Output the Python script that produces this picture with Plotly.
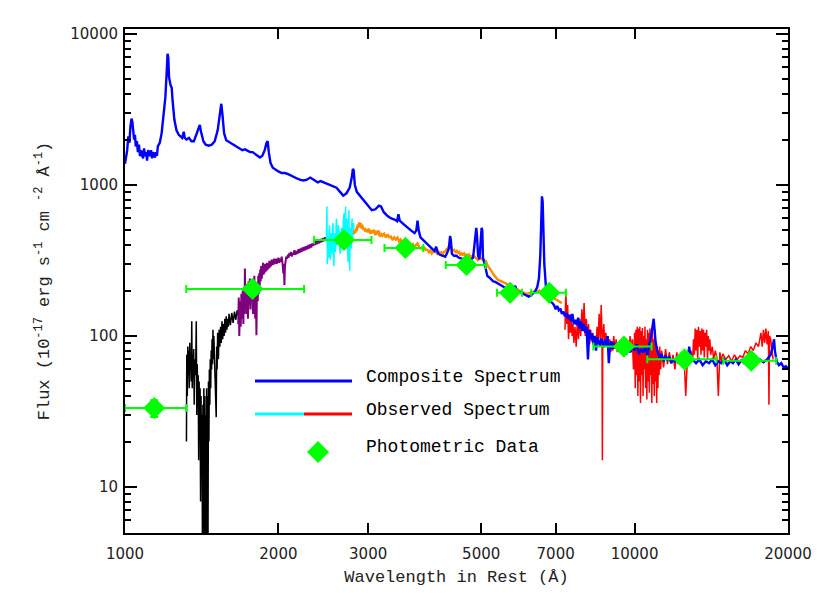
import plotly.graph_objects as go

# ---------------- data ----------------
composite = [
    (1000, 1380), (1005, 1550), (1010, 1700), (1015, 2100), (1020, 1900), (1025, 2450),
    (1030, 2750), (1034, 2600), (1038, 2300), (1042, 2000), (1046, 2150), (1050, 1800),
    (1055, 1950), (1060, 1650), (1065, 1850), (1070, 1550), (1075, 1700), (1080, 1600),
    (1085, 1500), (1090, 1750), (1095, 1550), (1100, 1650), (1105, 1450), (1110, 1700),
    (1115, 1600), (1120, 1550), (1125, 1700), (1130, 1500), (1135, 1650), (1140, 1580),
    (1145, 1520), (1150, 1650), (1155, 1560), (1160, 1800), (1170, 1900), (1180, 2200),
    (1190, 2800), (1200, 3800), (1207, 5500), (1212, 7400), (1216, 7000), (1220, 5200),
    (1228, 4600), (1235, 4400), (1240, 3600), (1250, 2700), (1262, 2300), (1275, 2150),
    (1285, 2100), (1295, 2050), (1304, 2250), (1310, 2050), (1320, 2000), (1335, 2050),
    (1350, 1950), (1365, 1950), (1380, 2150), (1395, 2450), (1402, 2500), (1410, 2250),
    (1425, 1950), (1440, 1850), (1460, 1820), (1480, 1850), (1500, 1950), (1520, 2300),
    (1535, 3000), (1545, 3450), (1552, 3000), (1565, 2200), (1580, 1980), (1600, 1930),
    (1620, 1900), (1640, 1850), (1660, 1800), (1680, 1750), (1700, 1700), (1720, 1720),
    (1740, 1680), (1760, 1650), (1780, 1650), (1800, 1600), (1820, 1550), (1840, 1520),
    (1860, 1560), (1880, 1700), (1895, 1900), (1905, 1950), (1915, 1650), (1930, 1400),
    (1950, 1300), (1975, 1260), (2000, 1230), (2030, 1200), (2060, 1200), (2090, 1180),
    (2120, 1150), (2150, 1120), (2180, 1100), (2210, 1080), (2240, 1070), (2270, 1080),
    (2310, 1120), (2350, 1080), (2390, 1040), (2420, 1060), (2450, 1040), (2500, 1010),
    (2550, 990), (2600, 960), (2650, 890), (2680, 850), (2720, 880), (2760, 960),
    (2790, 1150), (2800, 1280), (2810, 1250), (2825, 1000), (2850, 900), (2880, 860),
    (2920, 820), (2960, 770), (3000, 720), (3050, 680), (3100, 690), (3150, 730),
    (3180, 720), (3220, 660), (3280, 620), (3330, 600), (3380, 590), (3420, 575),
    (3440, 640), (3460, 580), (3520, 550), (3580, 520), (3640, 500), (3700, 480),
    (3730, 500), (3750, 580), (3770, 500), (3800, 450), (3850, 430), (3890, 420),
    (3930, 400), (3970, 390), (4000, 380), (4050, 365), (4080, 390), (4110, 355),
    (4150, 345), (4200, 340), (4250, 335), (4280, 350), (4320, 380), (4345, 460),
    (4360, 430), (4380, 350), (4420, 340), (4470, 340), (4520, 330), (4580, 325),
    (4620, 322), (4660, 330), (4700, 320), (4760, 318), (4820, 330), (4850, 400),
    (4870, 480), (4890, 520), (4905, 470), (4930, 340), (4960, 322), (4990, 420),
    (5010, 520), (5025, 500), (5040, 330), (5080, 300), (5110, 265), (5140, 250),
    (5180, 245), (5230, 236), (5280, 230), (5330, 228), (5380, 224), (5430, 220),
    (5480, 216), (5530, 210), (5580, 208), (5630, 212), (5680, 214), (5730, 210),
    (5790, 206), (5830, 215), (5870, 200), (5920, 196), (5970, 195), (6020, 192),
    (6080, 188), (6150, 185), (6200, 182), (6260, 185), (6320, 190), (6380, 198),
    (6440, 210), (6490, 240), (6530, 340), (6560, 620), (6580, 840), (6600, 780),
    (6620, 500), (6650, 300), (6700, 210), (6750, 185), (6800, 178), (6850, 168),
    (6900, 165), (6950, 160), (7000, 150), (7050, 158), (7100, 148), (7150, 152),
    (7200, 140), (7250, 145), (7300, 135), (7350, 142), (7400, 130), (7450, 138),
    (7500, 125), (7550, 140), (7600, 120), (7650, 128), (7700, 118), (7750, 132),
    (7800, 112), (7850, 125), (7900, 108), (7950, 120), (8000, 105), (8050, 115),
    (8100, 70), (8150, 110), (8200, 95), (8250, 104), (8300, 88), (8350, 100),
    (8400, 80), (8450, 98), (8500, 92), (8550, 86), (8600, 96), (8650, 90),
    (8700, 84), (8750, 95), (8800, 86), (8850, 100), (8900, 66), (8950, 88),
    (9000, 92), (9050, 82), (9100, 90), (9150, 84), (9200, 88), (9300, 80),
    (9400, 86), (9500, 82), (9600, 76), (9700, 84), (9800, 78), (9900, 86),
    (10000, 80), (10100, 88), (10200, 76), (10300, 82), (10400, 78), (10500, 84),
    (10600, 74), (10700, 90), (10800, 105), (10900, 130), (10950, 110), (11000, 90),
    (11100, 78), (11200, 72), (11300, 76), (11400, 68), (11500, 74), (11600, 70),
    (11700, 72), (11800, 66), (11900, 70), (12000, 68), (12100, 72), (12200, 66),
    (12300, 70), (12400, 68), (12500, 72), (12600, 66), (12700, 70), (12800, 85),
    (12850, 76), (12900, 68), (13000, 70), (13200, 66), (13400, 70), (13600, 64),
    (13800, 68), (14000, 66), (14200, 70), (14400, 64), (14600, 68), (14800, 66),
    (15000, 70), (15200, 64), (15400, 68), (15600, 66), (15800, 70), (16000, 65),
    (16200, 69), (16400, 66), (16600, 68), (16800, 64), (17000, 68), (17300, 66),
    (17600, 70), (17900, 67), (18200, 70), (18500, 75), (18700, 88), (18780, 95),
    (18850, 80), (19000, 68), (19200, 64), (19400, 66), (19600, 62), (19800, 63),
    (20000, 61), (20300, 62),
]

observed_black = [
    (1320, 20), (1322, 75), (1325, 40), (1328, 85), (1331, 55), (1334, 80), (1337, 45),
    (1340, 90), (1343, 60), (1346, 70), (1349, 50), (1352, 125), (1355, 45), (1358, 75),
    (1361, 60), (1364, 82), (1367, 35), (1370, 70), (1373, 55), (1376, 60), (1380, 125),
    (1383, 30), (1386, 65), (1389, 40), (1392, 55), (1395, 15), (1398, 50), (1401, 25),
    (1404, 45), (1407, 8), (1410, 40), (1413, 14), (1416, 30), (1419, 4), (1422, 35),
    (1425, 4), (1428, 45), (1431, 4), (1434, 40), (1437, 4), (1440, 30), (1443, 4),
    (1446, 45), (1449, 4), (1452, 40), (1455, 4), (1458, 50), (1461, 20), (1464, 60),
    (1467, 35), (1470, 70), (1473, 45), (1476, 80), (1479, 60), (1482, 95), (1485, 65),
    (1488, 110), (1491, 70), (1494, 100), (1497, 75), (1500, 90), (1505, 50), (1510, 29),
    (1513, 85), (1516, 60), (1520, 105), (1525, 70), (1530, 110), (1535, 85), (1540, 115),
    (1545, 90), (1550, 125), (1555, 95), (1560, 120), (1565, 100), (1570, 130),
    (1575, 105), (1580, 135), (1585, 110), (1590, 130), (1595, 115), (1600, 140),
    (1610, 118), (1620, 142), (1630, 122), (1640, 145), (1650, 128), (1660, 148),
    (1670, 135), (1680, 150),
]

observed_purple = [
    (1668, 120), (1672, 180), (1676, 100), (1682, 170), (1687, 115), (1692, 190),
    (1697, 130), (1702, 200), (1707, 120), (1712, 210), (1716, 140), (1719, 280),
    (1723, 150), (1728, 220), (1733, 140), (1738, 210), (1743, 130), (1748, 230),
    (1753, 160), (1758, 240), (1763, 150), (1768, 235), (1773, 170), (1778, 220),
    (1783, 140), (1788, 225), (1794, 250), (1798, 150), (1802, 130), (1806, 210),
    (1811, 101), (1815, 200), (1818, 220), (1822, 170), (1826, 250), (1830, 190),
    (1834, 260), (1838, 215), (1842, 275), (1846, 230), (1850, 290), (1855, 240),
    (1860, 285), (1866, 305), (1870, 255), (1874, 290), (1878, 260), (1882, 300),
    (1886, 265), (1890, 295), (1895, 270), (1900, 305), (1905, 275), (1910, 300),
    (1915, 280), (1920, 315), (1925, 285), (1930, 310), (1935, 290), (1940, 320),
    (1945, 295), (1950, 315), (1955, 295), (1960, 325), (1965, 300), (1970, 320),
    (1975, 305), (1980, 325), (1985, 300), (1990, 320), (1995, 305), (2000, 330),
    (2008, 305), (2015, 325), (2022, 310), (2030, 335), (2038, 300), (2045, 260),
    (2050, 300), (2055, 218), (2060, 290), (2065, 320), (2072, 335), (2080, 325),
    (2088, 345), (2095, 330), (2102, 355), (2110, 340), (2118, 360), (2125, 335),
    (2132, 355), (2140, 345), (2150, 370), (2160, 345), (2170, 365), (2180, 350),
    (2190, 375), (2200, 355), (2210, 380), (2220, 360), (2230, 385), (2240, 365),
    (2250, 390), (2260, 370), (2270, 395), (2280, 375), (2290, 400), (2300, 380),
    (2310, 405), (2320, 385), (2330, 410), (2340, 395), (2350, 420), (2360, 400),
    (2370, 425), (2380, 405), (2390, 430), (2400, 410), (2410, 435), (2420, 415),
    (2430, 440), (2440, 420), (2450, 445), (2460, 425), (2470, 450), (2484, 430),
]

observed_cyan = [
    (2484, 420), (2490, 720), (2495, 300), (2500, 460), (2505, 340), (2510, 330),
    (2515, 500), (2520, 540), (2525, 360), (2530, 320), (2535, 480), (2540, 470),
    (2545, 350), (2550, 380), (2555, 520), (2560, 560), (2565, 340), (2570, 290),
    (2575, 450), (2580, 480), (2585, 360), (2590, 380), (2595, 520), (2600, 600),
    (2607, 400), (2615, 420), (2622, 540), (2630, 500), (2637, 380), (2645, 350),
    (2652, 470), (2660, 520), (2667, 390), (2675, 440), (2682, 560), (2690, 650),
    (2695, 420), (2700, 450), (2705, 560), (2710, 720), (2715, 380), (2720, 420),
    (2725, 600), (2730, 560), (2735, 380), (2740, 310), (2745, 520), (2750, 680),
    (2755, 400), (2760, 270), (2765, 450), (2770, 520), (2775, 400), (2780, 380),
    (2785, 520), (2790, 600), (2795, 440), (2800, 480), (2808, 560), (2815, 520),
]

observed_orange = [
    (2815, 470), (2822, 505), (2830, 480), (2840, 520), (2850, 495), (2860, 545),
    (2870, 520), (2880, 565), (2890, 535), (2900, 560), (2910, 515), (2920, 545),
    (2935, 505), (2950, 520), (2965, 490), (2980, 510), (2995, 485), (3010, 515),
    (3030, 475), (3045, 500), (3060, 480), (3080, 505), (3100, 465), (3115, 495),
    (3130, 470), (3145, 500), (3160, 455), (3180, 480), (3200, 460), (3225, 475),
    (3250, 448), (3275, 470), (3300, 450), (3325, 455), (3350, 432), (3375, 450),
    (3400, 435), (3425, 448), (3450, 422), (3475, 435), (3500, 412), (3525, 425),
    (3550, 408), (3575, 430), (3600, 415), (3625, 405), (3650, 392), (3675, 405),
    (3700, 388), (3725, 400), (3750, 410), (3775, 390), (3800, 380), (3825, 385),
    (3850, 368), (3875, 382), (3900, 372), (3925, 370), (3950, 358), (3975, 368),
    (4000, 352), (4025, 362), (4050, 372), (4075, 360), (4100, 350), (4125, 362),
    (4150, 352), (4175, 358), (4200, 345), (4225, 360), (4250, 362), (4275, 375),
    (4300, 380), (4325, 395), (4350, 398), (4375, 380), (4400, 368), (4425, 372),
    (4450, 360), (4475, 366), (4500, 355), (4525, 360), (4550, 342), (4575, 352),
    (4600, 346), (4625, 352), (4650, 336), (4675, 346), (4700, 340), (4725, 346),
    (4750, 328), (4775, 338), (4800, 332), (4825, 342), (4850, 336), (4875, 330),
    (4900, 326), (4925, 318), (4950, 322), (4975, 330), (5000, 326), (5025, 320),
    (5050, 312), (5075, 310), (5100, 318), (5125, 300), (5150, 292), (5175, 285),
    (5200, 280), (5225, 272), (5250, 266), (5275, 258), (5300, 252), (5325, 246),
    (5350, 242), (5375, 238), (5400, 235), (5450, 232), (5500, 230), (5550, 226),
    (5600, 222), (5650, 218), (5700, 216), (5750, 212), (5800, 209), (5850, 205),
    (5900, 202), (5950, 199), (6000, 196), (6050, 194), (6100, 192), (6150, 190),
    (6200, 191), (6250, 194), (6300, 193), (6350, 196), (6400, 195), (6450, 198),
    (6500, 200), (6550, 196), (6600, 197), (6650, 194), (6700, 192), (6750, 190),
    (6800, 188), (6850, 184), (6900, 182), (6950, 178), (7000, 175), (7050, 172),
    (7100, 170), (7150, 168), (7200, 165),
]

observed_red = [
    (7300, 110), (7330, 200), (7360, 120), (7390, 160), (7420, 95), (7450, 130),
    (7480, 105), (7510, 140), (7540, 100), (7570, 120), (7600, 90), (7640, 115),
    (7680, 85), (7720, 125), (7760, 95), (7800, 130), (7840, 100), (7880, 150),
    (7920, 110), (7960, 165), (8000, 100), (8040, 130), (8080, 95), (8120, 120),
    (8160, 88), (8200, 110), (8240, 92), (8280, 105), (8320, 85), (8360, 100),
    (8400, 82), (8440, 115), (8480, 90), (8520, 140), (8560, 95), (8600, 160),
    (8630, 100), (8645, 15), (8660, 95), (8700, 120), (8740, 88), (8780, 105),
    (8820, 85), (8860, 100), (8900, 82), (8940, 95), (8980, 78), (9020, 92),
    (9060, 80), (9100, 100), (9150, 82), (9200, 95), (9250, 78), (9300, 90),
    (9350, 80), (9400, 92), (9450, 76), (9500, 88), (9550, 80), (9600, 95),
    (9650, 75), (9700, 90), (9750, 82), (9800, 100), (9850, 78), (9900, 95),
    (9950, 60), (10000, 105), (10030, 45), (10060, 110), (10090, 55), (10120, 115),
    (10150, 40), (10180, 112), (10210, 50), (10240, 115), (10270, 36), (10300, 108),
    (10330, 55), (10360, 113), (10390, 40), (10420, 100), (10450, 60), (10480, 115),
    (10510, 45), (10540, 95), (10570, 38), (10600, 110), (10630, 50), (10660, 105),
    (10690, 42), (10720, 112), (10750, 55), (10780, 100), (10810, 36), (10840, 108),
    (10870, 48), (10900, 95), (10930, 40), (10960, 110), (10990, 50), (11020, 90),
    (11050, 36), (11080, 85), (11110, 45), (11140, 80), (11170, 55), (11200, 85),
    (11250, 60), (11300, 80), (11400, 62), (11500, 82), (11600, 65), (11700, 78),
    (11800, 66), (11900, 75), (12000, 60), (12100, 78), (12200, 65), (12300, 72),
    (12400, 62), (12500, 75), (12600, 40), (12700, 74), (12800, 66), (12900, 80),
    (13000, 70), (13050, 95), (13100, 75), (13150, 112), (13200, 80), (13250, 110),
    (13300, 70), (13350, 115), (13400, 85), (13450, 108), (13500, 75), (13550, 112),
    (13600, 80), (13650, 110), (13700, 72), (13750, 105), (13800, 85), (13850, 110),
    (13900, 70), (13950, 100), (14000, 80), (14050, 95), (14100, 75), (14200, 85),
    (14300, 70), (14400, 80), (14500, 72), (14600, 40), (14700, 78), (14800, 68),
    (14900, 76), (15100, 70), (15300, 74), (15500, 68), (15700, 75), (15900, 70),
    (16100, 74), (16300, 72), (16500, 80), (16700, 76), (16900, 85), (17100, 80),
    (17300, 90), (17500, 85), (17700, 105), (17800, 85), (17900, 110), (18000, 90),
    (18100, 112), (18200, 88), (18300, 108), (18350, 35), (18400, 100), (18500, 95),
    (18600, 80), (18700, 70),
]

phot_wl = [1141, 1780, 2690, 3550, 4680, 5696, 6800, 9530, 12530, 16940]
phot_flux = [33.3, 205, 432, 383, 295, 193, 193, 85, 70, 68.5]
phot_wl_lo = [1000, 1319, 2350, 3230, 4260, 5370, 6270, 8300, 10590, 14930]
phot_wl_hi = [1319, 2246, 3045, 3850, 5100, 6010, 7330, 10800, 14470, 18960]
phot_flux_err = [4.2, 0, 0, 0, 0, 0, 0, 0, 0, 0]

x_tickvals = [1000, 2000, 3000, 5000, 7000, 10000, 20000]
x_ticktext = ["1000", "2000", "3000", "5000", "7000", "10000", "20000"]

legend_labels = ["Composite Spectrum", "Observed Spectrum", "Photometric Data"]

# ---------------- figure ----------------
def xy(pairs):
    return [p[0] for p in pairs], [p[1] for p in pairs]

fig = go.Figure()
for pairs, col, w in [(observed_black, "black", 1.5), (observed_purple, "#7F007F", 2.0),
                      (observed_cyan, "#00FFFF", 1.5), (observed_orange, "#FF8C00", 2.4),
                      (observed_red, "#FF0000", 1.5)]:
    x, y = xy(pairs)
    fig.add_trace(go.Scatter(x=x, y=y, mode="lines", line=dict(color=col, width=w),
                             showlegend=False, hoverinfo="skip"))

x, y = xy(composite)
fig.add_trace(go.Scatter(x=x, y=y, mode="lines", line=dict(color="#0000FF", width=2.4),
                         showlegend=False))

fig.add_trace(go.Scatter(
    x=phot_wl, y=phot_flux, mode="markers",
    marker=dict(symbol="diamond", size=17, color="#00FF00"),
    error_x=dict(type="data", symmetric=False,
                 array=[h - w for h, w in zip(phot_wl_hi, phot_wl)],
                 arrayminus=[w - l for w, l in zip(phot_wl, phot_wl_lo)],
                 color="#00FF00", thickness=2, width=4),
    error_y=dict(type="data", array=phot_flux_err, color="#00FF00", thickness=2, width=4),
    showlegend=False))

# page body adds an 8px offset; target plot box in the screenshot is 125..788 x 29..533
OFF = 8
FIG_W, FIG_H = 830 - OFF, 593 - OFF
L, R, T, B = 125 - OFF, 788 - OFF, 29 - OFF, 533 - OFF
W, H = R - L, B - T
def px(xp): return (xp - OFF - L) / W
def py(yp): return (B - (yp - OFF)) / H

shapes = [
    dict(type="line", xref="paper", yref="paper", x0=px(255), x1=px(352), y0=py(381), y1=py(381),
         line=dict(color="#0000FF", width=3)),
    dict(type="line", xref="paper", yref="paper", x0=px(255), x1=px(304), y0=py(414), y1=py(414),
         line=dict(color="#00FFFF", width=3)),
    dict(type="line", xref="paper", yref="paper", x0=px(304), x1=px(352), y0=py(414), y1=py(414),
         line=dict(color="#FF0000", width=3)),
    dict(type="path", xref="paper", yref="paper",
         path=f"M {px(307)},{py(452)} L {px(318)},{py(441)} L {px(329)},{py(452)} L {px(318)},{py(463)} Z",
         fillcolor="#00FF00", line=dict(width=0)),
]
annotations = []
for lab, yy in zip(legend_labels, [377, 410, 447]):
    annotations.append(dict(text=lab, xref="paper", yref="paper", x=px(364), y=py(yy),
                            xanchor="left", yanchor="middle", showarrow=False,
                            font=dict(family="Liberation Mono", size=18, color="black")))

axis_common = dict(showline=True, linecolor="black", linewidth=2, mirror="allticks",
                   ticks="inside", tickcolor="black", tickwidth=2, showgrid=False,
                   zeroline=False, automargin=False,
                   tickfont=dict(family="DejaVu Sans", size=15, color="#222"))

fig.update_layout(
    width=FIG_W, height=FIG_H,
    margin=dict(l=L, r=FIG_W - R, t=T, b=FIG_H - B),
    plot_bgcolor="white", paper_bgcolor="white",
    xaxis=dict(type="log", range=[3, 4.30103], tickvals=x_tickvals, ticktext=x_ticktext,
               ticklen=10, ticklabelstandoff=6,
               title=dict(text="Wavelength in Rest (Å)", standoff=8,
                          font=dict(family="Liberation Mono", size=17, color="#222")),
               **axis_common),
    yaxis=dict(type="log", range=[0.695, 4.033], dtick=1, tick0=0, tickformat="d",
               ticklen=12, ticklabelstandoff=2,
               minor=dict(ticks="inside", ticklen=6, tickwidth=2, tickcolor="black", dtick="D1",
                          showgrid=False),
               title=dict(text="Flux (10<sup>-17</sup> erg s<sup>-1</sup> cm <sup>-2</sup> Å<sup>-1</sup>)",
                          standoff=16,
                          font=dict(family="Liberation Mono", size=17, color="#222")),
               **axis_common),
    shapes=shapes, annotations=annotations,
)

fig.write_html("out.html")
